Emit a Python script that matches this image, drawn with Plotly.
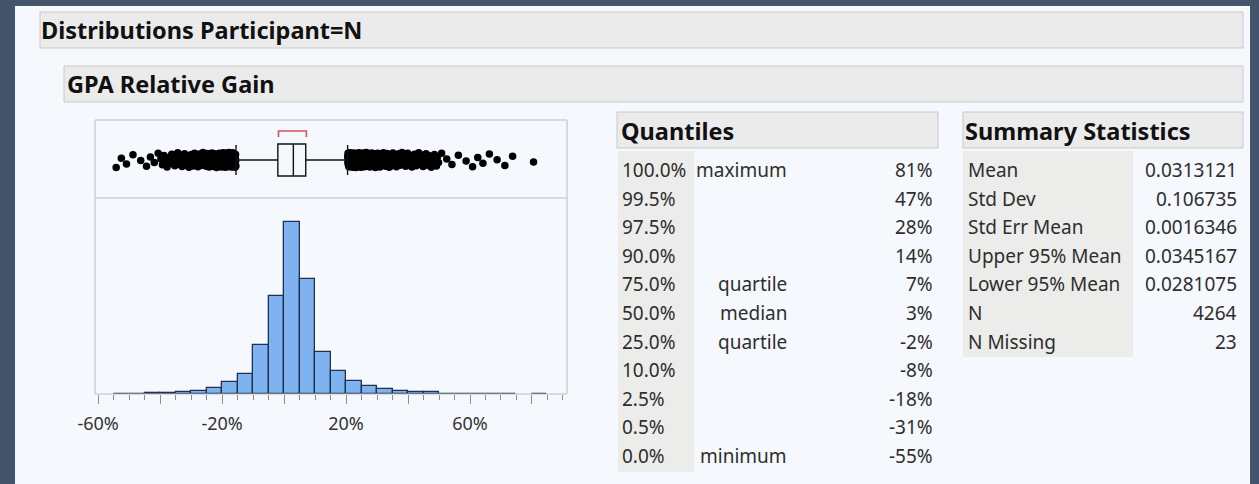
import plotly.graph_objects as go

W, H = 1259, 484
FONT = "Noto Sans, Open Sans, DejaVu Sans, sans-serif"

# ---- data -------------------------------------------------------------
# Histogram of GPA relative gain (%), 5% bins: lower edges and counts
BIN_LO = [-55, -50, -45, -40, -35, -30, -25, -20, -15, -10, -5, 0, 5, 10,
          15, 20, 25, 30, 35, 40, 45, 50, 55, 60, 65, 70, 75, 80]
COUNTS = [3, 2, 4, 10, 18, 24, 44, 88, 147, 360, 720, 1263, 845, 309,
          169, 96, 59, 35, 22, 18, 15, 3, 2, 3, 2, 2, 0, 1]
BIN_W = 5

# Quantiles table
QUANT_PCT = ["100.0%", "99.5%", "97.5%", "90.0%", "75.0%", "50.0%",
             "25.0%", "10.0%", "2.5%", "0.5%", "0.0%"]
QUANT_NAME = ["maximum", "", "", "", "quartile", "median", "quartile",
              "", "", "", "minimum"]
QUANT_VAL = [81, 47, 28, 14, 7, 3, -2, -8, -18, -31, -55]

# Summary statistics table
STAT_NAME = ["Mean", "Std Dev", "Std Err Mean", "Upper 95% Mean",
             "Lower 95% Mean", "N", "N Missing"]
STAT_VAL = ["0.0313121", "0.106735", "0.0016346", "0.0345167",
            "0.0281075", "4264", "23"]

# Shortest-half bracket (%)
SHORT_HALF = [-1.8, 7.2]

# ---- derived box-plot quantities -------------------------------------
q = dict(zip(QUANT_PCT, QUANT_VAL))
Q1, MED, Q3 = q["25.0%"], q["50.0%"], q["75.0%"]
VMIN, VMAX = q["0.0%"], q["100.0%"]
IQR = Q3 - Q1
LO_FENCE, HI_FENCE = Q1 - 1.5 * IQR, Q3 + 1.5 * IQR

# outlier points: each bin's observations spread across the bin
out_x = []
for lo, n in zip(BIN_LO, COUNTS):
    a, b = max(lo, VMIN), min(lo + BIN_W, VMAX)
    for i in range(n):
        v = a + (i + 0.5) * (b - a) / n
        if v < LO_FENCE or v > HI_FENCE:
            out_x.append(v)
GOLD = 0.6180339887
out_y = [38 + 7.5 * (2 * ((i * GOLD) % 1.0) - 1) for i in range(len(out_x))]


# ---- helpers ----------------------------------------------------------
def px(x):
    return x / W


def py(y):
    return 1 - y / H


shapes = []
annotations = []


def rect(x0, y0, x1, y1, fill, line=None, width=1, layer="below"):
    shapes.append(dict(type="rect", xref="paper", yref="paper",
                       x0=px(x0), x1=px(x1), y0=py(y1), y1=py(y0),
                       fillcolor=fill, layer=layer,
                       line=dict(color=line or fill, width=width if line else 0)))


def text(x, y, s, size=19, anchor="left", bold=False, color="#2e2e2e"):
    if bold:
        s = "<b>" + s + "</b>"
    annotations.append(dict(x=px(x), y=py(y), xref="paper", yref="paper",
                            text=s, showarrow=False, xanchor=anchor,
                            yanchor="middle", borderpad=0,
                            font=dict(family=FONT, size=size, color=color)))


HEAD = 23.5

# ---- page furniture ---------------------------------------------------
rect(15, 6, 1250, 484, "#F5F8FC")
rect(40, 12, 1243, 48, "#EBEBEB", "#C9C9C9")
text(40, 30, "Distributions Participant=N", size=HEAD, bold=True, color="#111111")
rect(64, 66, 1243, 102, "#EBEBEB", "#C9C9C9")
text(66, 84, "GPA Relative Gain", size=HEAD, bold=True, color="#111111")

# Quantiles table
rect(617, 112, 938, 148, "#EBEBEB", "#C9C9C9")
text(620, 131, "Quantiles", size=HEAD, bold=True, color="#111111")
rect(618, 151, 694, 472, "#ECECEA")
ROW0, ROWH = 170, 28.6
for i, (p, nm, v) in enumerate(zip(QUANT_PCT, QUANT_NAME, QUANT_VAL)):
    y = ROW0 + i * ROWH
    text(621, y, p)
    if nm:
        text(788, y, nm, anchor="right")
    text(934, y, f"{v}%", anchor="right")

# Summary statistics table
rect(963, 112, 1243, 148, "#EBEBEB", "#C9C9C9")
text(964, 131, "Summary Statistics", size=HEAD, bold=True, color="#111111")
rect(963, 151, 1133, 357, "#ECECEA")
for i, (nm, v) in enumerate(zip(STAT_NAME, STAT_VAL)):
    y = ROW0 + i * ROWH
    text(967, y, nm)
    text(1238, y, v, anchor="right")

# ---- box plot (yaxis2 in pixel-like units, 0 = bottom of strip) --------
BOX = dict(xref="x", yref="y2", layer="above")
line_k = dict(color="#111111", width=1.4)
shapes += [
    dict(type="rect", x0=Q1, x1=Q3, y0=22, y1=54, line=line_k, **BOX),
    dict(type="line", x0=MED, x1=MED, y0=22, y1=54, line=line_k, **BOX),
    dict(type="line", x0=LO_FENCE, x1=Q1, y0=38, y1=38, line=line_k, **BOX),
    dict(type="line", x0=Q3, x1=HI_FENCE, y0=38, y1=38, line=line_k, **BOX),
    dict(type="line", x0=LO_FENCE, x1=LO_FENCE, y0=23, y1=53, line=line_k, **BOX),
    dict(type="line", x0=HI_FENCE, x1=HI_FENCE, y0=23, y1=53, line=line_k, **BOX),
    dict(type="path", path=f"M{SHORT_HALF[0]},61 L{SHORT_HALF[0]},67 "
                           f"L{SHORT_HALF[1]},67 L{SHORT_HALF[1]},61",
         line=dict(color="#D9505C", width=1.6), **BOX),
]

# frame around both panels
FR = "#B9BEC5"
shapes += [
    dict(type="rect", xref="paper", yref="paper", x0=px(95), x1=px(567),
         y0=py(394), y1=py(120), line=dict(color=FR, width=1), layer="above"),
    dict(type="line", xref="paper", yref="paper", x0=px(95), x1=px(567),
         y0=py(198), y1=py(198), line=dict(color=FR, width=1), layer="above"),
]

# ---- traces -------------------------------------------------------------
bx = [lo + BIN_W / 2 for lo, n in zip(BIN_LO, COUNTS) if n > 0]
by = [n for n in COUNTS if n > 0]

fig = go.Figure()
fig.add_trace(go.Bar(x=bx, y=by, width=BIN_W, xaxis="x", yaxis="y",
                     marker=dict(color="#7EB2F0",
                                 line=dict(color="#22324E", width=1.3)),
                     hoverinfo="skip", showlegend=False))
fig.add_trace(go.Scatter(x=out_x, y=out_y, xaxis="x", yaxis="y2",
                         mode="markers",
                         marker=dict(color="#000000", size=7.5, line=dict(width=0)),
                         hoverinfo="skip", showlegend=False))

TICKS = [-60, -40, -20, 0, 20, 40, 60, 80]
TICK_TXT = [f"{t}%" if t in (-60, -20, 20, 60) else "" for t in TICKS]

fig.update_layout(
    template="none",
    width=W, height=H, autosize=False,
    margin=dict(l=0, r=0, t=0, b=0, pad=0),
    paper_bgcolor="#44546A", plot_bgcolor="#FFFFFF",
    bargap=0, shapes=shapes, annotations=annotations,
    font=dict(family=FONT), showlegend=False,
    xaxis=dict(domain=[px(95), px(567)], range=[-61, 91.3], anchor="y",
               automargin=False,
               tickmode="array", tickvals=TICKS, ticktext=TICK_TXT,
               ticks="outside", ticklen=9, tickcolor="#8C8C8C", tickwidth=1,
               ticklabelstandoff=4,
               minor=dict(dtick=5, tick0=0, ticks="outside", ticklen=5,
                          tickcolor="#8C8C8C", tickwidth=1, showgrid=False),
               showgrid=False, zeroline=False, showline=False,
               tickfont=dict(family=FONT, size=18, color="#333333")),
    yaxis=dict(domain=[py(394), py(198)], range=[0, 1440], visible=False,
               automargin=False, fixedrange=True),
    yaxis2=dict(domain=[py(198), py(120)], range=[0, 78], visible=False,
                automargin=False, anchor="x", fixedrange=True),
)

fig.write_html("out.html")
